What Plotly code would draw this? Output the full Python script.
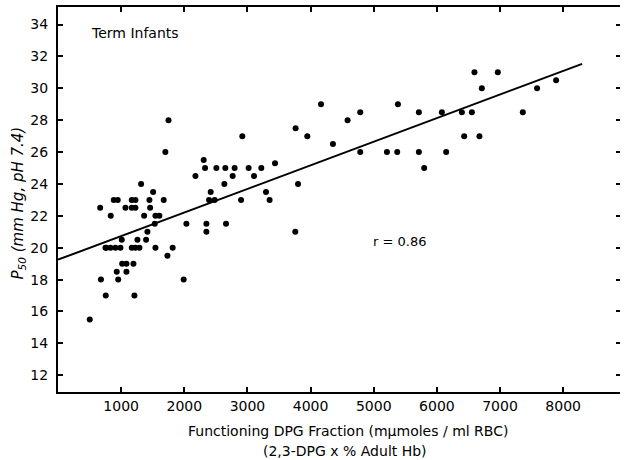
import plotly.graph_objects as go

# Functioning DPG fraction (mμmoles/ml RBC)
dpg = [503, 668, 680, 752, 756, 763, 831, 835, 883, 910, 930, 946, 953, 989,
       1010, 1016, 1068, 1084, 1084, 1168, 1168, 1168, 1195, 1210, 1226, 1226,
       1226, 1258, 1290, 1316, 1364, 1395, 1416, 1448, 1459, 1506, 1532, 1543,
       1543, 1606, 1674, 1700, 1733, 1750, 1816, 1990,
       2033, 2176, 2307, 2329, 2350, 2350, 2392, 2418, 2481, 2508, 2634, 2650,
       2661, 2766, 2797, 2899, 2919, 3019, 3104, 3220, 3294, 3351, 3437, 3758,
       3763, 3801, 3948, 4165, 4354, 4586,
       4786, 4786, 5209, 5372, 5383, 5715, 5715, 5799,
       6079, 6147, 6396, 6432, 6554, 6595, 6674, 6712, 6965, 7361, 7587, 7888]
# P50 (mm Hg, pH 7.4)
p50 = [15.5, 22.5, 18.0, 20.0, 17.0, 20.0, 20.0, 22.0, 23.0, 20.0, 18.5, 23.0, 18.0, 20.0,
       20.5, 19.0, 22.5, 19.0, 18.5, 23.0, 22.5, 20.0, 19.0, 17.0, 23.0, 22.5,
       20.0, 20.5, 20.0, 24.0, 22.0, 20.5, 21.0, 23.0, 22.5, 23.5, 21.5, 22.0,
       20.0, 22.0, 23.0, 26.0, 19.5, 28.0, 20.0, 18.0,
       21.5, 24.5, 25.5, 25.0, 21.5, 21.0, 23.0, 23.5, 23.0, 25.0, 24.0, 25.0,
       21.5, 24.5, 25.0, 23.0, 27.0, 25.0, 24.5, 25.0, 23.5, 23.0, 25.3, 21.0,
       27.5, 24.0, 27.0, 29.0, 26.5, 28.0,
       28.5, 26.0, 26.0, 26.0, 29.0, 28.5, 26.0, 25.0,
       28.5, 26.0, 28.5, 27.0, 28.5, 31.0, 27.0, 30.0, 31.0, 28.5, 30.0, 30.5]

# regression line (as drawn)
fit_x = [0, 8300]
fit_intercept = 19.25
fit_slope = 0.00148
fit_y = [fit_intercept + fit_slope * v for v in fit_x]

x_ticks = [1000, 2000, 3000, 4000, 5000, 6000, 7000, 8000]
y_ticks = [12, 14, 16, 18, 20, 22, 24, 26, 28, 30, 32, 34]
x_range = [0, 8900]
y_range = [10.95, 35.1]

FONT = "DejaVu Sans"

fig = go.Figure()
fig.add_trace(go.Scatter(x=fit_x, y=fit_y, mode="lines",
                         line=dict(color="black", width=2),
                         showlegend=False, hoverinfo="skip"))
fig.add_trace(go.Scatter(x=dpg, y=p50, mode="markers",
                         marker=dict(color="black", size=6, symbol="circle"),
                         showlegend=False))
fig.add_trace(go.Scatter(x=[], y=[], yaxis="y2", showlegend=False, hoverinfo="skip"))

fig.update_layout(
    width=625, height=460,
    margin=dict(l=58, r=5, t=7, b=68),
    paper_bgcolor="white", plot_bgcolor="white",
    font=dict(family=FONT, color="black"),
    xaxis=dict(range=x_range, tickvals=x_ticks, ticktext=[str(v) for v in x_ticks],
               showgrid=False, zeroline=False, showline=True, linecolor="black",
               linewidth=2, mirror="ticks", ticks="inside", ticklen=5, tickwidth=1.5,
               tickcolor="black", tickfont=dict(size=14, family=FONT)),
    yaxis=dict(range=y_range, tickvals=y_ticks, showgrid=False, zeroline=False,
               showline=True, linecolor="black", linewidth=2, ticks="inside",
               ticklen=5, tickwidth=1.5, tickcolor="black",
               tickfont=dict(size=14, family=FONT), ticklabelstandoff=5),
    yaxis2=dict(range=y_range, tickvals=y_ticks, overlaying="y", side="right",
                anchor="x", showgrid=False, zeroline=False, showline=False,
                ticks="inside", ticklen=4, tickwidth=1.5, tickcolor="black",
                showticklabels=False),
    annotations=[
        dict(text="Term Infants", x=490, y=33.45, xref="x", yref="y",
             xanchor="left", yanchor="middle", showarrow=False,
             font=dict(size=14, family=FONT)),
        dict(text="r = 0.86", x=4960, y=20.38, xref="x", yref="y",
             xanchor="left", yanchor="middle", showarrow=False,
             font=dict(size=13, family=FONT)),
        dict(text="<i>P</i><sub><i>50</i></sub><i> (mm Hg, pH 7.4)</i>",
             x=-0.071, y=0.49, xref="paper", yref="paper", textangle=-90,
             xanchor="center", yanchor="middle", showarrow=False,
             font=dict(size=15, family=FONT)),
        dict(text="Functioning DPG Fraction (mμmoles / ml RBC)",
             x=0.516, y=-0.1004, xref="paper", yref="paper",
             xanchor="center", yanchor="middle", showarrow=False,
             font=dict(size=14, family=FONT)),
        dict(text="(2,3-DPG x % Adult Hb)",
             x=0.51, y=-0.152, xref="paper", yref="paper",
             xanchor="center", yanchor="middle", showarrow=False,
             font=dict(size=14, family=FONT)),
    ],
)

fig.write_html("out.html")
